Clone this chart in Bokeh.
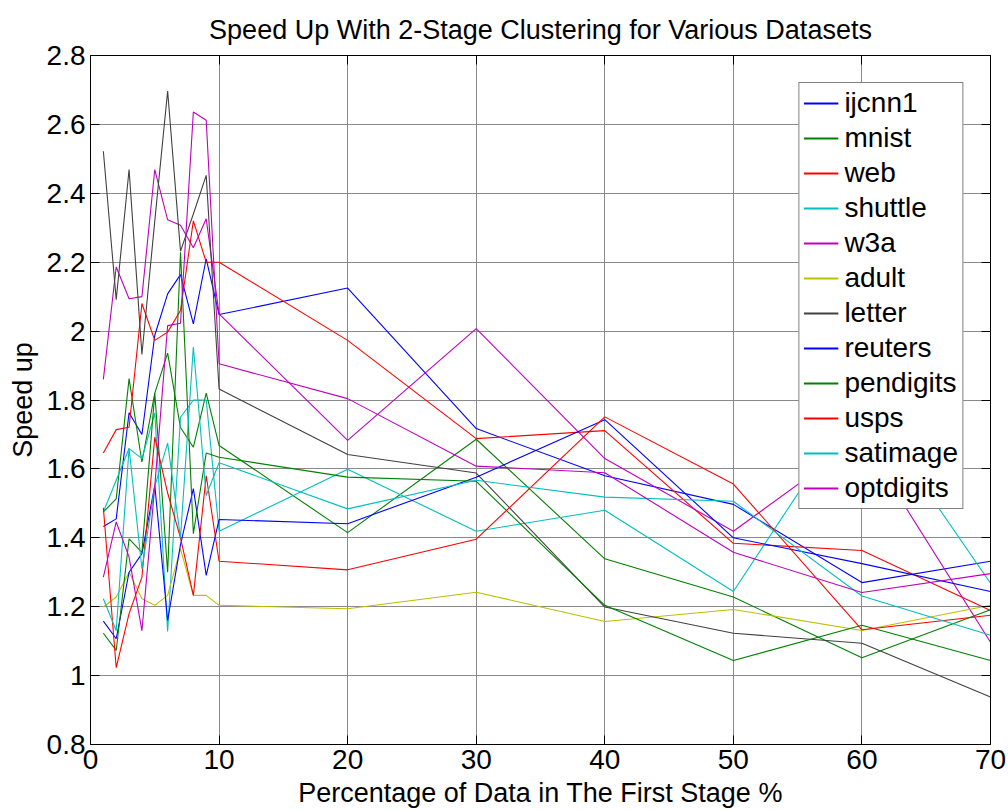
from bokeh.plotting import figure
from bokeh.models import Range1d, LinearAxis, Legend, LegendItem, FixedTicker
from bokeh.embed import file_html
from bokeh.resources import INLINE

x_pct = [1, 2, 3, 4, 5, 6, 7, 8, 9, 10, 20, 30, 40, 50, 60, 70]

ijcnn1 = [1.433, 1.455, 1.763, 1.70, 1.988, 2.108, 2.164, 2.021, 2.21, 2.048, 2.125, 1.717, 1.58, 1.497, 1.270, 1.332]
mnist = [1.475, 1.513, 1.862, 1.62, 1.82, 1.936, 1.72, 1.663, 1.82, 1.668, 1.415, 1.686, 1.339, 1.228, 1.052, 1.191]
web = [1.646, 1.714, 1.721, 2.08, 1.973, 1.997, 2.06, 2.32, 2.20, 2.20, 1.973, 1.688, 1.711, 1.384, 1.363, 1.189]
shuttle = [1.475, 1.567, 1.659, 1.63, 1.762, 1.128, 1.75, 1.80, 1.80, 1.419, 1.599, 1.419, 1.480, 1.244, 1.81, 1.268]
w3a = [1.86, 2.186, 2.094, 2.10, 2.469, 2.323, 2.307, 2.242, 2.326, 2.05, 1.683, 2.007, 1.630, 1.419, 1.69, 1.097]
adult = [1.199, 1.228, 1.30, 1.223, 1.204, 1.233, 1.368, 1.233, 1.233, 1.204, 1.194, 1.242, 1.157, 1.192, 1.131, 1.204]
letter = [2.522, 2.091, 2.469, 1.932, 2.32, 2.697, 2.232, 2.34, 2.452, 1.832, 1.642, 1.588, 1.199, 1.123, 1.094, 0.938]
reuters = [1.158, 1.107, 1.30, 1.354, 1.552, 1.16, 1.38, 1.543, 1.291, 1.453, 1.441, 1.576, 1.743, 1.40, 1.325, 1.244]
pendigits = [1.123, 1.073, 1.397, 1.358, 1.82, 1.30, 2.229, 1.412, 1.646, 1.634, 1.576, 1.564, 1.204, 1.044, 1.146, 1.044]
usps = [1.487, 1.023, 1.18, 1.286, 1.692, 1.53, 1.40, 1.233, 1.58, 1.332, 1.307, 1.396, 1.751, 1.556, 1.133, 1.175]
satimage = [1.223, 1.13, 1.66, 1.31, 1.55, 1.675, 1.40, 1.954, 1.523, 1.618, 1.484, 1.567, 1.518, 1.506, 1.231, 1.117]
optdigits = [1.286, 1.446, 1.344, 1.13, 1.55, 2.016, 2.023, 2.636, 2.612, 1.905, 1.804, 1.608, 1.589, 1.358, 1.241, 1.296]

names = ["ijcnn1", "mnist", "web", "shuttle", "w3a", "adult", "letter",
         "reuters", "pendigits", "usps", "satimage", "optdigits"]
series = [ijcnn1, mnist, web, shuttle, w3a, adult, letter,
          reuters, pendigits, usps, satimage, optdigits]
palette = ["#0000FF", "#008000", "#FF0000", "#00BFBF", "#BF00BF", "#BFBF00", "#404040"]

x_ticks = [0, 10, 20, 30, 40, 50, 60, 70]
y_ticks = [0.8, 1.0, 1.2, 1.4, 1.6, 1.8, 2.0, 2.2, 2.4, 2.6, 2.8]
y_tick_labels = ["0.8", "1", "1.2", "1.4", "1.6", "1.8", "2", "2.2", "2.4", "2.6", "2.8"]

FONT = "Liberation Sans"

p = figure(frame_width=900, frame_height=689,
           min_border_left=90, min_border_right=18, min_border_top=55, min_border_bottom=66,
           x_range=Range1d(0, 70), y_range=Range1d(0.8, 2.8),
           output_backend="svg", toolbar_location=None,
           title="Speed Up With 2-Stage Clustering for Various Datasets")
p.title.align = "center"
p.title.text_font = FONT
p.title.text_font_size = "27px"
p.title.text_font_style = "normal"
p.title.text_color = "black"
p.title.standoff = 21

p.background_fill_color = "white"
p.border_fill_color = "white"
p.outline_line_color = "black"

p.xgrid.ticker = FixedTicker(ticks=x_ticks)
p.ygrid.ticker = FixedTicker(ticks=y_ticks)
for g in (p.xgrid, p.ygrid):
    g.grid_line_color = "#8a8a8a"
    g.grid_line_width = 1

def style_axis(ax, show_labels):
    ax.axis_line_color = "black"
    ax.axis_line_width = 1
    ax.major_tick_in = 9
    ax.major_tick_out = 0
    ax.minor_tick_line_color = None
    ax.major_tick_line_color = "black"
    ax.major_label_text_font = FONT
    ax.major_label_text_color = "black"
    if show_labels:
        ax.major_label_text_font_size = "28px"
        ax.major_label_standoff = 5
    else:
        ax.major_label_text_font_size = "0px"
        ax.major_label_standoff = 0

xa = p.xaxis[0]
xa.ticker = FixedTicker(ticks=x_ticks)
style_axis(xa, True)
xa.axis_label = "Percentage of Data in The First Stage %"
xa.axis_label_text_font = FONT
xa.axis_label_text_font_size = "27px"
xa.axis_label_text_font_style = "normal"
xa.axis_label_text_color = "black"
xa.axis_label_standoff = 6

ya = p.yaxis[0]
ya.ticker = FixedTicker(ticks=y_ticks)
ya.major_label_overrides = {t: s for t, s in zip(y_ticks, y_tick_labels)}
style_axis(ya, True)
ya.axis_label = "Speed up"
ya.axis_label_text_font = FONT
ya.axis_label_text_font_size = "27px"
ya.axis_label_text_font_style = "normal"
ya.axis_label_text_color = "black"
ya.axis_label_standoff = 6

top_ax = LinearAxis(ticker=FixedTicker(ticks=x_ticks))
style_axis(top_ax, False)
p.add_layout(top_ax, "above")
right_ax = LinearAxis(ticker=FixedTicker(ticks=y_ticks))
style_axis(right_ax, False)
p.add_layout(right_ax, "right")

no_points = [float("nan")] * len(x_pct)

items = []
for i, (nm, ys) in enumerate(zip(names, series)):
    col = palette[i % 7]
    p.line(x_pct, ys, line_color=col, line_width=1.1)
    # renderer without drawable points, used only for the legend swatch
    sw = p.line(x_pct, no_points, line_color=col, line_width=2)
    items.append(LegendItem(label=nm, renderers=[sw]))

legend = Legend(items=items, location="top_right")
legend.margin = 27
legend.padding = 4
legend.spacing = 3
legend.label_height = 30
legend.glyph_height = 30
legend.glyph_width = 35
legend.label_standoff = 6
legend.label_text_font = FONT
legend.label_text_font_size = "28px"
legend.label_text_color = "black"
legend.border_line_color = "black"
legend.border_line_width = 1
legend.background_fill_color = "white"
legend.background_fill_alpha = 1.0
p.add_layout(legend, "center")

open("out.html", "w").write(file_html(p, INLINE))
